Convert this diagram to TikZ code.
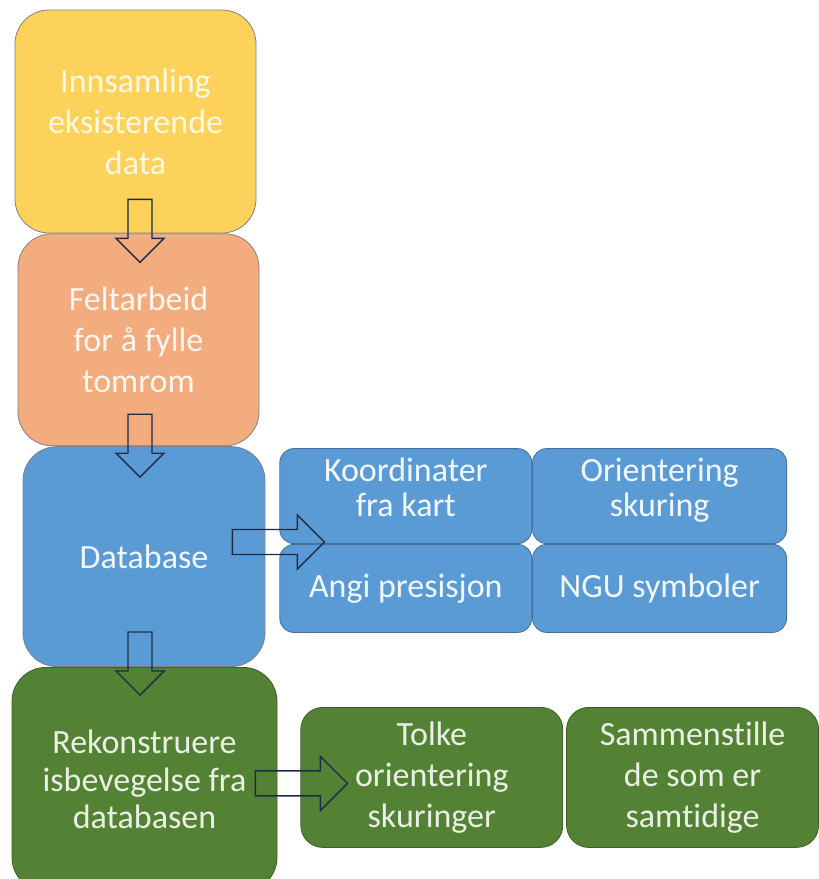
\documentclass[tikz,border=0pt]{standalone}
\usepackage{fontspec}
\setmainfont[Ligatures=NoCommon]{Carlito}
\usetikzlibrary{positioning,calc}
\definecolor{gulfyll}{HTML}{FDD25A}
\definecolor{oransjefyll}{HTML}{F3AC7E}
\definecolor{blaafyll}{HTML}{5B9BD5}
\definecolor{blaakant}{HTML}{41719C}
\definecolor{groennfyll}{HTML}{548235}
\definecolor{groennkant}{HTML}{3D6027}
\definecolor{pillinje}{HTML}{1C2B45}
\begin{document}
\begin{tikzpicture}[
    x=1pt, y=-1pt,
    node distance=0pt,
    box/.style={rectangle, draw=black!50, line width=0.8pt, rounded corners=34pt, align=center, inner sep=0pt, font=\fontsize{34}{41}\selectfont},
    subbox/.style={box, rounded corners=14pt, draw=blaakant, fill=blaafyll, text=white!92!blaafyll, minimum width=252pt, font=\fontsize{34}{35}\selectfont},
    resbox/.style={box, rounded corners=22pt, draw=groennkant, fill=groennfyll, text=white!88!groennfyll, minimum height=140pt},
    arrowline/.style={draw=pillinje, line width=1.4pt, line join=miter},
    nedpil/.pic={\draw[arrowline] (-12,0) -- (12,0) -- (12,39) -- (24,39) -- (0,63) -- (-24,39) -- (-12,39) -- cycle;},
    hoeyrepil/.pic={\draw[arrowline] (0,-12.5) -- (65,-12.5) -- (65,-27) -- (92,0) -- (65,27) -- (65,12.5) -- (0,12.5) -- cycle;}
]
    \useasboundingbox (0,0) rectangle (819,879);

    % Main steps
    \node [box, fill=gulfyll, text=white!85!gulfyll, minimum width=241pt, minimum height=223pt] (innsamling) at (135.5,121.5) {Innsamling\\eksisterende\\data};
    \node [box, fill=oransjefyll, text=white!88!oransjefyll, minimum width=241pt, minimum height=212pt, below=of innsamling, xshift=3pt] (feltarbeid) {Feltarbeid\\for å fylle\\tomrom};
    \node [box, fill=blaafyll, text=white!92!blaafyll, minimum width=242pt, minimum height=220pt, below=of feltarbeid, xshift=5.5pt] (database) {Database};
    \node [box, draw=groennkant, fill=groennfyll, text=white!88!groennfyll, minimum width=265pt, minimum height=224pt, below=of database, xshift=0.5pt, font=\fontsize{34}{37.5}\selectfont] (rekonstruere) {Rekonstruere\\isbevegelse fra\\databasen};

    % Database fields
    \node [subbox, minimum height=95pt, text depth=18pt, right=14pt of database, yshift=60.5pt] (koordinater) {Koordinater\\fra kart};
    \node [subbox, minimum width=254pt, minimum height=95pt, text depth=18pt, right=of koordinater] (orientering) {Orientering\\skuring};
    \node [subbox, minimum height=88pt, below=of koordinater] (presisjon) {Angi presisjon};
    \node [subbox, minimum width=254pt, minimum height=88pt, right=of presisjon] (symboler) {NGU symboler};

    % Interpretation
    \node [resbox, minimum width=262pt, right=23pt of rekonstruere, yshift=2pt] (tolke) {Tolke\\orientering\\skuringer};
    \node [resbox, minimum width=252pt, right=3pt of tolke] (sammenstille) {Sammenstille\\de som er\\samtidige};

    % Arrows
    \pic at ($(innsamling.south)+(4.5,-34)$) {nedpil};
    \pic at ($(feltarbeid.south)+(1.5,-32)$) {nedpil};
    \pic at ($(database.south)+(-4,-35)$) {nedpil};
    \pic at ($(database.east |- koordinater.south)+(-33,-2)$) {hoeyrepil};
    \pic at ($(rekonstruere.east)+(-22,4)$) {hoeyrepil};
\end{tikzpicture}
\end{document}
